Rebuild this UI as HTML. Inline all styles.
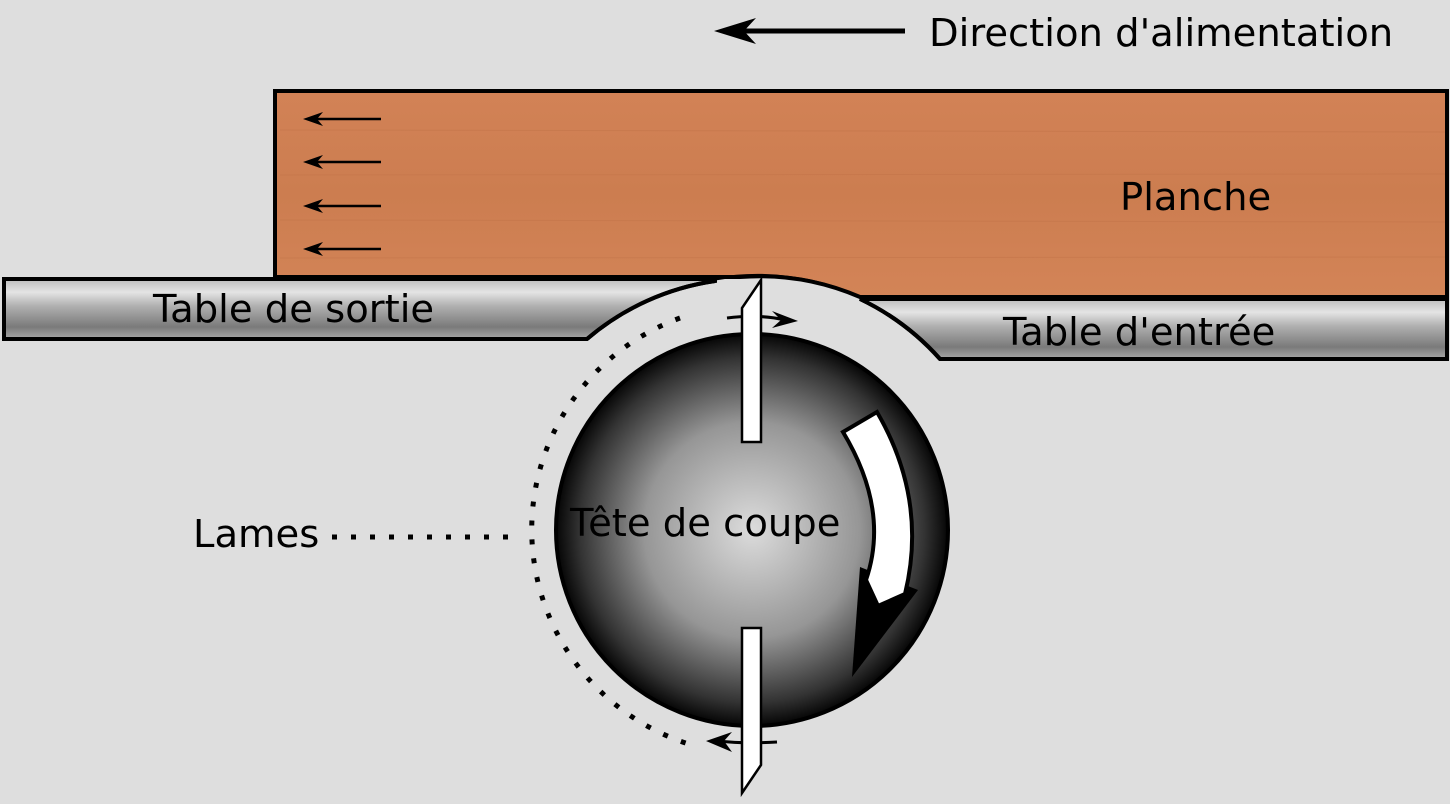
<!DOCTYPE html>
<html><head><meta charset="utf-8"><style>
html,body{margin:0;padding:0;background:#dedede;}
svg{display:block}
text{font-family:"DejaVu Sans","Liberation Sans",sans-serif;font-size:38.5px;fill:#000}
</style></head><body>
<svg width="1450" height="804" viewBox="0 0 1450 804" xmlns="http://www.w3.org/2000/svg">
<defs>
<linearGradient id="tbl" x1="0" y1="0" x2="0" y2="1">
<stop offset="0" stop-color="#bdbdbd"/>
<stop offset="0.22" stop-color="#e4e4e4"/>
<stop offset="0.45" stop-color="#b0b0b0"/>
<stop offset="0.8" stop-color="#7a7a7a"/>
<stop offset="1" stop-color="#a8a8a8"/>
</linearGradient>
<radialGradient id="ball" cx="752" cy="530" r="196" gradientUnits="userSpaceOnUse">
<stop offset="0" stop-color="#dcdcdc"/>
<stop offset="0.55" stop-color="#969696"/>
<stop offset="0.88" stop-color="#333"/>
<stop offset="1" stop-color="#050505"/>
</radialGradient>
<linearGradient id="wood" x1="0" y1="0" x2="0" y2="1">
<stop offset="0" stop-color="#d28256"/>
<stop offset="0.5" stop-color="#cc7d50"/>
<stop offset="1" stop-color="#d38457"/>
</linearGradient>
</defs>
<rect width="1450" height="804" fill="#dedede"/>

<line x1="740" y1="31" x2="905" y2="31" stroke="#000" stroke-width="5"/>
<path d="M714,31 L756,18 L744,31 L756,44 Z" fill="#000"/>
<text x="929" y="46">Direction d'alimentation</text>

<path d="M275,91 L1447,91 L1447,297 L860,297 A253,253 0 0 0 740,277 L275,277 Z" fill="url(#wood)" stroke="#000" stroke-width="4"/>
<g stroke="#c27449" stroke-width="1" opacity="0.5">
<line x1="280" y1="130" x2="1445" y2="132"/><line x1="280" y1="175" x2="1445" y2="174"/>
<line x1="280" y1="220" x2="1445" y2="222"/><line x1="280" y1="258" x2="1445" y2="257"/>
</g>
<text x="1120" y="210">Planche</text>
<g stroke="#000" stroke-width="2.5" fill="#000">
<line x1="315" y1="119" x2="381" y2="119"/><path d="M303,119 L323,112 L317,119 L323,126Z" stroke="none"/>
<line x1="315" y1="162" x2="381" y2="162"/><path d="M303,162 L323,155 L317,162 L323,169Z" stroke="none"/>
<line x1="315" y1="206" x2="381" y2="206"/><path d="M303,206 L323,199 L317,206 L323,213Z" stroke="none"/>
<line x1="315" y1="249" x2="381" y2="249"/><path d="M303,249 L323,242 L317,249 L323,256Z" stroke="none"/>
</g>

<path d="M4,279 L715,279 L715,281 A253,253 0 0 0 587,339 L4,339 Z" fill="url(#tbl)" stroke="#000" stroke-width="4"/>
<text x="153" y="322">Table de sortie</text>
<path d="M860,299 L1447,299 L1447,359 L940,359 A253,253 0 0 0 860,299 Z" fill="url(#tbl)" stroke="#000" stroke-width="4"/>
<text x="1003" y="345">Table d'entrée</text>
<path d="M587,339 A253,253 0 0 1 715,281" fill="none" stroke="#000" stroke-width="4"/>
<path d="M715,279 A253,253 0 0 1 860,297" fill="none" stroke="#000" stroke-width="3"/>
<path d="M860,299 A253,253 0 0 1 940,359" fill="none" stroke="#000" stroke-width="4"/>

<circle cx="752" cy="530" r="196" fill="url(#ball)" stroke="#000" stroke-width="4"/>
<text x="570" y="536">Tête de coupe</text>

<path d="M680,318 A225,225 0 0 0 692,745" fill="none" stroke="#000" stroke-width="5" stroke-dasharray="5,14"/>
<line x1="332" y1="537" x2="515" y2="537" stroke="#000" stroke-width="5" stroke-dasharray="5,14"/>
<text x="193" y="547">Lames</text>

<path d="M860,567 L918,590 L852,677 Z" fill="#000"/>
<path d="M843,432 L877,412 Q928,500 905,594 L878,606 L866,580 Q890,510 843,432 Z" fill="#fff" stroke="#000" stroke-width="4"/>

<path d="M727,318 Q760,314 785,320" fill="none" stroke="#000" stroke-width="3"/>
<path d="M798,321 L772,311 L781,320 L772,328 Z" fill="#000"/>
<path d="M777,742 Q745,744 718,741" fill="none" stroke="#000" stroke-width="3"/>
<path d="M706,741 L732,732 L724,741 L732,752 Z" fill="#000"/>

<path d="M742,442 L742,308 L761,280 L761,442 Z" fill="#fff" stroke="#000" stroke-width="2.5"/>
<path d="M742,628 L761,628 L761,765 L742,793 Z" fill="#fff" stroke="#000" stroke-width="2.5"/>
</svg>
</body></html>
